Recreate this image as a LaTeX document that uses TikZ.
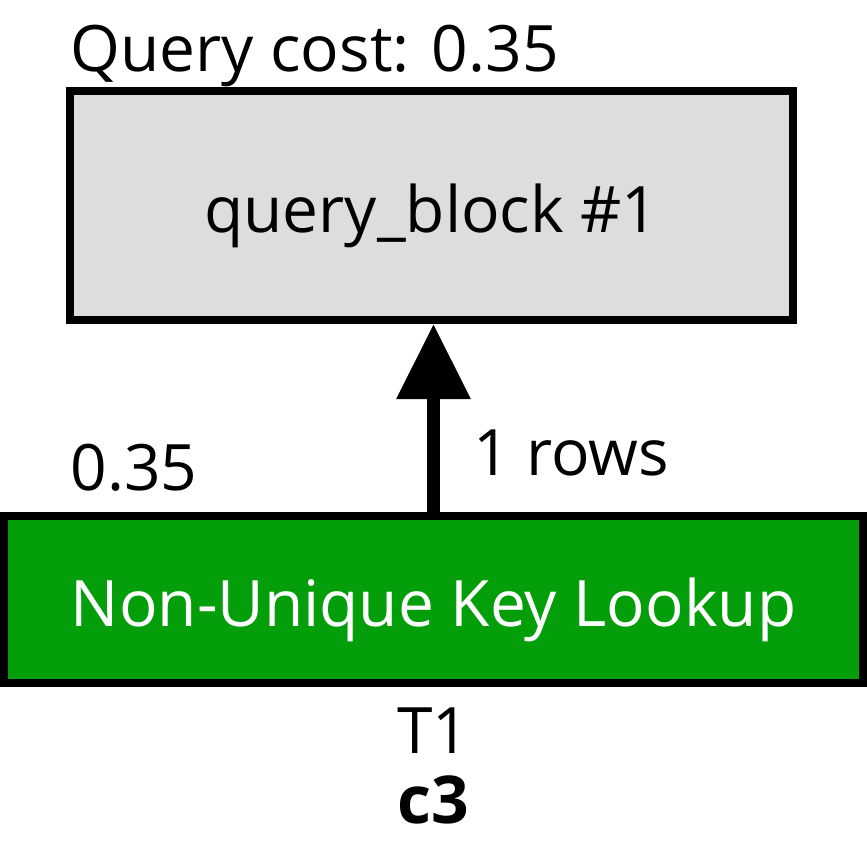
\documentclass[tikz,border=0pt]{standalone}
\usepackage{fontspec}
\setmainfont{Open Sans}
\usetikzlibrary{arrows.meta,positioning}
\definecolor{blockgray}{RGB}{221,221,221}
\definecolor{lookupgreen}{RGB}{3,158,10}
\tikzset{
  plan/.style={draw=black, line width=4pt, inner sep=0pt, text depth=0pt},
  lbl/.style={inner sep=0pt, font=\fontsize{32}{38}\selectfont},
  flow/.style={line width=6.5pt, -{Triangle[length=37.5pt, width=35.5pt]}}
}
\begin{document}
\begin{tikzpicture}[x=0.5pt, y=-0.5pt]
  \useasboundingbox (0,0) rectangle (867,858);
  % Operation boxes
  \node[plan, fill=blockgray, minimum width=361.5pt, minimum height=114.5pt,
        lbl, text height=27pt] (qb) at (431.5,205.5) {query\_block \#1};
  \node[plan, fill=lookupgreen, minimum width=429.5pt, minimum height=83.5pt,
        lbl, text height=26.5pt, text=white] (lookup) at (433.5,599.5) {Non-Unique Key Lookup};
  % Costs and table
  \node[lbl, anchor=base west] (qcost) at (70,71) {Query cost: 0.35};
  \node[lbl, anchor=base west] (lcost) at (70,490) {0.35};
  \node[lbl, anchor=base] (tbl) at (433.5,753) {T1};
  \node[lbl, anchor=base, font=\fontsize{33}{38}\selectfont\bfseries] (key) at (433.5,823) {c3};
  % Rows flowing up
  \draw[flow] (lookup.north) -- (lookup.north |- qb.south);
  \node[lbl, anchor=base west] (rows) at (473,475) {1 rows};
\end{tikzpicture}
\end{document}
